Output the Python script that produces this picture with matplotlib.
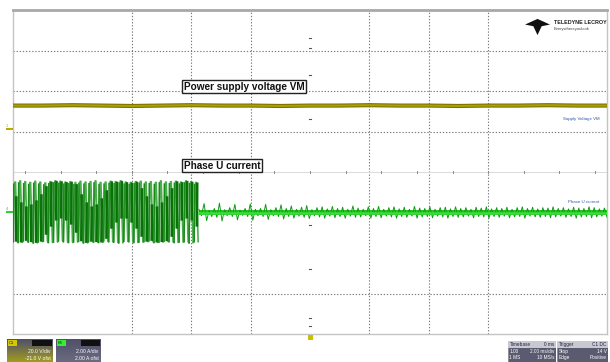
import matplotlib
matplotlib.use("Agg")
import matplotlib.pyplot as plt
import numpy as np
from matplotlib.patches import Rectangle, Polygon
from matplotlib.colors import LinearSegmentedColormap

# ---------------- data (screen divisions; x: 0..10, y: -4..4) ----------------
x_grid = [2, 3, 4, 6, 7, 8]
y_grid = [3, 2, 1, -3]

# Channel 1: power supply voltage VM (flat)
vm_values = [1.64, 1.64, 1.65, 1.64, 1.63, 1.64, 1.65, 1.64, 1.64, 1.63, 1.64,
             1.64, 1.65, 1.64, 1.64, 1.63, 1.64, 1.64, 1.65, 1.64, 1.64]

# Channel 4: phase U current, part 1 (switching, 37 cycles from 0 to 3.13 div)
pwm_hi = [-0.25, -0.22, -0.24, -0.26, -0.23, -0.25, -0.27, -0.24, -0.22, -0.23,
          -0.25, -0.24, -0.26, -0.23, -0.25, -0.24, -0.22, -0.26, -0.25, -0.23,
          -0.24, -0.22, -0.25, -0.26, -0.24, -0.23, -0.25, -0.24, -0.26, -0.22,
          -0.25, -0.24, -0.23, -0.25, -0.22, -0.24, -0.26]
pwm_lo = [-1.72, -1.74, -1.70, -1.73, -1.75, -1.72, -1.71, -1.74, -1.73, -1.70,
          -1.72, -1.74, -1.73, -1.71, -1.75, -1.72, -1.73, -1.74, -1.70, -1.72,
          -1.73, -1.75, -1.71, -1.72, -1.74, -1.73, -1.72, -1.70, -1.74, -1.73,
          -1.71, -1.72, -1.74, -1.73, -1.72, -1.75, -1.72]
band_mid = [-1.20, -1.35, -1.45, -1.40, -1.30, -1.15, -0.95,
            -0.75, -0.60, -0.55, -0.60, -0.70, -0.90,
            -1.15, -1.35, -1.45, -1.40, -1.25, -1.05,
            -0.80, -0.65, -0.55, -0.55, -0.65, -0.80, -1.00,
            -1.20, -1.40, -1.45, -1.35, -1.20, -1.00,
            -0.80, -0.60, -0.55, -0.60, -0.75]
pwm_start, pwm_end = 0.0, 3.13

# Channel 4, part 2 (after switching stops: small ripple around -1.0 div)
ripple_hi = [-0.92, -0.78, -0.95, -0.90, -0.77, -0.93, -0.88, -0.80, -0.94, -0.90,
             -0.79, -0.92, -0.90, -0.80, -0.93, -0.88, -0.81,
             -0.90, -0.84, -0.92, -0.87, -0.83, -0.93, -0.88, -0.86, -0.91, -0.85,
             -0.90, -0.87, -0.92, -0.84, -0.89, -0.92, -0.86, -0.90, -0.85, -0.92,
             -0.88, -0.86, -0.91, -0.87, -0.92, -0.85, -0.89, -0.90, -0.86, -0.92,
             -0.88, -0.87, -0.91, -0.86, -0.90, -0.88, -0.92, -0.87, -0.89, -0.86,
             -0.91, -0.88, -0.90, -0.87, -0.92, -0.88, -0.86, -0.90, -0.87, -0.91,
             -0.88, -0.89, -0.86, -0.90, -0.88, -0.91, -0.87, -0.89, -0.90, -0.86,
             -0.88, -0.91, -0.89]
ripple_lo = [-1.08, -1.20, -1.10, -1.12, -1.21, -1.08, -1.10, -1.18, -1.07, -1.10,
             -1.19, -1.08, -1.10, -1.17, -1.08, -1.10, -1.16,
             -1.10, -1.14, -1.09, -1.12, -1.15, -1.08, -1.11, -1.14, -1.09, -1.13,
             -1.10, -1.14, -1.09, -1.12, -1.11, -1.08, -1.14, -1.10, -1.13, -1.09,
             -1.11, -1.14, -1.10, -1.12, -1.09, -1.14, -1.11, -1.10, -1.13, -1.09,
             -1.11, -1.14, -1.10, -1.12, -1.11, -1.09, -1.13, -1.10, -1.11, -1.14,
             -1.10, -1.12, -1.09, -1.13, -1.11, -1.10, -1.14, -1.09, -1.11, -1.12,
             -1.10, -1.13, -1.11, -1.09, -1.12, -1.10, -1.14, -1.11, -1.10, -1.13,
             -1.11, -1.09, -1.12]
ripple_start, ripple_end = 3.13, 10.0

# ---------------- figure ----------------
W, H = 610, 362
plt.rcParams["font.family"] = ["Liberation Sans", "DejaVu Sans"]
fig = plt.figure(figsize=(W / 100, H / 100), dpi=100)
fig.patch.set_facecolor("white")

ax = fig.add_axes([13 / W, (H - 334) / H, 594 / W, 324 / H])
ax.set_xlim(0, 10)
ax.set_ylim(-4, 4)
ax.set_xticks([])
ax.set_yticks([])
for s in ax.spines.values():
    s.set_color("#c4c4c4")
    s.set_linewidth(1.0)
ax.spines["top"].set_color("#a8a8a8")
ax.spines["top"].set_linewidth(2.0)

grid_style = dict(color="#7a7a7a", lw=0.8, ls=(0, (1.2, 1.6)), zorder=1)
for gx in x_grid:
    ax.axvline(gx, **grid_style)
for gy in y_grid:
    ax.axhline(gy, **grid_style)
# centre axis
ax.axhline(0, color="#dadada", lw=0.7, zorder=1)
for tx in np.arange(0.2, 10, 0.6):
    ax.plot([tx, tx], [-0.03, 0.03], color="#777777", lw=0.6, zorder=1)
for ty in [3.3, 3.05, 2.4, 1.3, -1.3, -2.4, -3.6, -3.8]:
    ax.plot([4.98, 5.02], [ty, ty], color="#555555", lw=0.8, zorder=1)

# Channel 1 trace
vx = np.linspace(0, 10, len(vm_values))
ax.plot(vx, vm_values, color="#7d7400", lw=3.0, zorder=3, solid_capstyle="butt")
ax.plot(vx, vm_values, color="#aca000", lw=1.4, zorder=3)

# Channel 4 part 1: switching waveform
n = len(pwm_hi)
period = (pwm_end - pwm_start) / n
xs, ys = [], []
for i in range(n):
    t0 = pwm_start + i * period
    xs += [t0, t0 + 0.35 * period, t0 + 0.5 * period, t0 + 0.85 * period]
    ys += [pwm_lo[i], pwm_hi[i], pwm_hi[i], pwm_lo[i]]
ax.plot(xs, ys, color="#4cad4c", lw=1.2, zorder=4)
for i in range(n):
    t0 = pwm_start + i * period
    ax.plot([t0 + 0.05 * period, t0 + 0.12 * period], [pwm_lo[i], pwm_hi[i] - 0.05],
            color="#1a8a1a", lw=1.1, zorder=4)
    ax.plot([t0 + 0.60 * period, t0 + 0.66 * period],
            [max(band_mid[i] - 0.6, pwm_lo[i]), min(band_mid[i] + 0.6, pwm_hi[i])],
            color="#087208", lw=1.9, zorder=5, solid_capstyle="butt")

# Channel 4 part 2: residual ripple
m = len(ripple_hi)
rx = np.linspace(ripple_start, ripple_end, 2 * m)
ry = []
for i in range(m):
    ry += [ripple_hi[i], ripple_lo[i]]
ax.fill_between([ripple_start, ripple_end], [-0.95, -0.95], [-1.05, -1.05],
                color="#2ac42a", lw=0, zorder=4)
ax.plot(rx, ry, color="#119a11", lw=0.7, zorder=5)
ax.plot([ripple_start, ripple_end], [-1.0, -1.0], color="#3ade3a", lw=1.8, zorder=6)

# Annotation boxes
box = dict(boxstyle="square,pad=0.18", fc="white", ec="#222222", lw=1.0)
ax.text(2.88, 2.11, "Power supply voltage VM", fontsize=7.2, fontweight="bold",
        ha="left", va="center", bbox=box, zorder=8, color="#111111")
ax.text(2.88, 0.16, "Phase U current", fontsize=7.2, fontweight="bold",
        ha="left", va="center", bbox=box, zorder=8, color="#111111")

# right-side trace labels
ax.text(9.87, 1.3, "Supply Voltage VM", fontsize=3.2, color="#3355aa",
        ha="right", va="center", zorder=8)
ax.text(9.87, -0.75, "Phase U current", fontsize=3.2, color="#3355aa",
        ha="right", va="center", zorder=8)

# logo
ax.text(9.1, 3.7, "TELEDYNE LECROY", fontsize=3.9, fontweight="bold",
        ha="left", va="center", zorder=8, color="#222222")
ax.text(9.1, 3.52, "Everywhereyoulook", fontsize=3.0, ha="left", va="center",
        zorder=8, color="#444444")
ax.add_patch(Polygon([[8.62, 3.64], [8.83, 3.78], [9.04, 3.64], [8.9, 3.6],
                      [8.83, 3.38], [8.76, 3.6]], closed=True, fc="#111111",
                     ec="none", zorder=8))

# channel markers (figure coords)
def fx(px):
    return px / W
def fy(py):
    return 1 - py / H

fig.add_artist(Rectangle((fx(6), fy(130)), 7 / W, 2 / H, fc="#b8aa00", ec="none"))
fig.text(fx(6), fy(127), "1", fontsize=3, color="#b8aa00")
fig.add_artist(Rectangle((fx(6), fy(213)), 7 / W, 2 / H, fc="#33cc33", ec="none"))
fig.text(fx(6), fy(210), "4", fontsize=3, color="#33cc33")
fig.add_artist(Rectangle((fx(308), fy(340)), 5 / W, 5 / H, fc="#c8c000", ec="none"))

# bottom status boxes
def status_box(x0, w, tag, tagcol, line1, line2, grad_col):
    grad = np.linspace(0, 1, 20).reshape(-1, 1)
    axb = fig.add_axes([fx(x0), 0, w / W, 23 / H])
    axb.set_axis_off()
    cm = LinearSegmentedColormap.from_list("g", ["#50506a", grad_col])
    axb.imshow(grad, aspect="auto", cmap=cm, extent=[0, 1, 0, 1], origin="upper")
    axb.set_xlim(0, 1)
    axb.set_ylim(0, 1)
    axb.add_patch(Rectangle((0.02, 0.68), 0.2, 0.28, fc=tagcol, ec="none"))
    axb.text(0.04, 0.82, tag, fontsize=3, color="#222222", va="center")
    axb.add_patch(Rectangle((0.55, 0.68), 0.42, 0.26, fc="#111111", ec="none"))
    axb.text(0.95, 0.45, line1, fontsize=3.6, color="white", ha="right", va="center")
    axb.text(0.95, 0.15, line2, fontsize=3.6, color="white", ha="right", va="center")

status_box(7, 46, "C1", "#d4c800", "20.0 V/div", "-21.0 V ofst", "#a09a20")
status_box(56, 45, "F4", "#33ee33", "2.00 A/div", "2.00 A ofst", "#6a6a80")

def info_box(x0, w, title, rows):
    axb = fig.add_axes([fx(x0), 0, w / W, 21 / H])
    axb.set_axis_off()
    axb.set_xlim(0, 1)
    axb.set_ylim(0, 1)
    axb.add_patch(Rectangle((0, 0), 1, 1, fc="#5a5a70", ec="#888888", lw=0.5))
    axb.add_patch(Rectangle((0, 0.68), 1, 0.32, fc="#c8c8d0", ec="none"))
    axb.text(0.03, 0.84, title[0], fontsize=3.4, color="#222244", va="center")
    axb.text(0.97, 0.84, title[1], fontsize=3.4, color="#222244", va="center", ha="right")
    for k, (a, b) in enumerate(rows):
        yy = 0.5 - 0.3 * k
        axb.text(0.03, yy, a, fontsize=3.4, color="white", va="center")
        axb.text(0.97, yy, b, fontsize=3.4, color="white", va="center", ha="right")

info_box(508, 48, ("Timebase", "0 ms"), [("1.00", "2.00 ms/div"), ("1 MS", "10 MS/s")])
info_box(557, 51, ("Trigger", "C1 DC"), [("Stop", "14 V"), ("Edge", "Positive")])

fig.savefig("out.png", dpi=100, facecolor="white")
